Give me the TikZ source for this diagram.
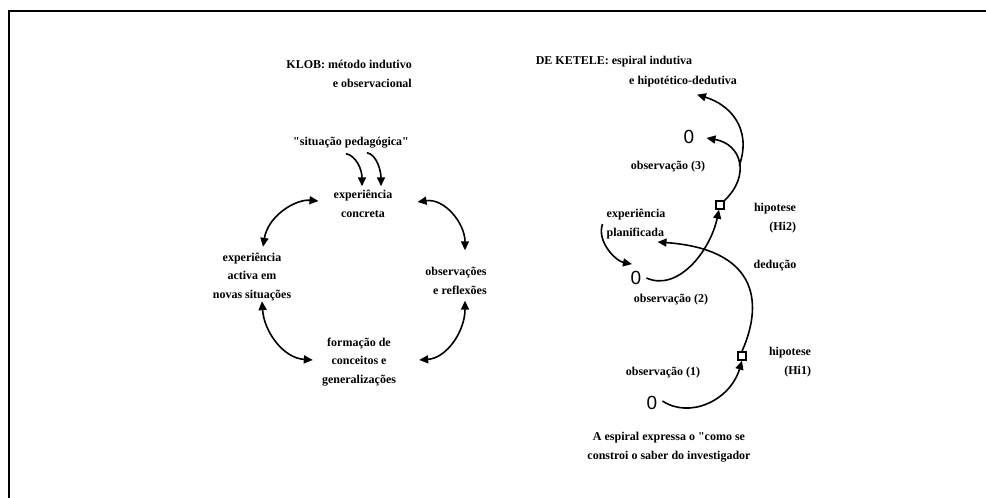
\documentclass[tikz,border=0pt]{standalone}
\usepackage{fontspec}
\setmainfont{Liberation Serif}[Ligatures=TeXOff]
\newfontfamily\digitfont{Liberation Sans}
\usetikzlibrary{arrows.meta}
\tikzset{
  lbl/.style={inner sep=1pt, align=center, font=\bfseries\fontsize{12}{18.5}\selectfont},
  zero/.style={inner sep=1pt, font=\digitfont\fontsize{19}{19}\selectfont},
  hyp/.style={rectangle, draw, line width=1.4pt, fill=white, minimum size=8pt, inner sep=0pt},
  arr/.style={line width=1.6pt, ->},
  darr/.style={line width=1.6pt, <->},
  >={Triangle[length=9pt,width=8pt]}
}
\begin{document}
\begin{tikzpicture}[x=1pt,y=-1pt]
\useasboundingbox (0,0) rectangle (986,498);
% frame
\draw[line width=2pt] (986,11) -- (9,11) -- (9,498);

% KLOB
\node[lbl, align=right, anchor=east] (klob) at (413,74) {KLOB: método indutivo\\e observacional};
\node[lbl] (sit) at (351,143) {"situação pedagógica"};
\node[lbl] (expc) at (363,204) {experiência\\concreta};
\node[lbl] (expa) at (252,277) {experiência\\activa em\\novas situações};
\node[lbl, align=right] (obsr) at (456,281) {observações\\e reflexões};
\node[lbl] (form) at (359,362) {formação de\\conceitos e\\generalizações};

\draw[arr] ([shift={(-5,4)}]sit.south) .. controls +(10,2) and +(0,-17) .. ([shift={(-1,-3)}]expc.north);
\draw[arr] ([shift={(16,3)}]sit.south) .. controls +(10,2) and +(0,-15) .. ([shift={(18,-3)}]expc.north);
% cycle
\draw[darr] ([shift={(-14,-3)}]expc.west) .. controls +(-23,-2) and +(5,-31) .. ([shift={(11,-5)}]expa.north);
\draw[darr] ([shift={(24,-2)}]expc.east) .. controls +(27,-4) and +(0,-27) .. ([shift={(9,-16)}]obsr.north);
\draw[darr] ([shift={(10,-1)}]expa.south) .. controls +(2,30) and +(-30,-2) .. ([shift={(-8,-2)}]form.west);
\draw[darr] ([shift={(9,5)}]obsr.south) .. controls +(0,30) and +(28,-2) .. ([shift={(22,-2)}]form.east);

% DE KETELE
\node[lbl] (ket1) at (614,62) {DE KETELE: espiral indutiva};
\node[lbl] (ket2) at (683,82) {e hipotético-dedutiva};
\node[zero] (z3) at (689,137) {0};
\node[lbl] (obs3) at (668,167) {observação (3)};
\node[hyp] (hi2) at (720,205) {};
\node[lbl, align=right] (hi2t) at (775,218) {hipotese\\(Hi2)};
\node[lbl, align=left] (expp) at (636,224) {experiência\\planificada};
\node[zero] (z2) at (636,278) {0};
\node[lbl] (ded) at (775,266) {dedução};
\node[lbl] (obs2) at (671,300) {observação (2)};
\node[hyp] (hi1) at (742,356) {};
\node[lbl, align=right] (hi1t) at (790,362) {hipotese\\(Hi1)};
\node[lbl] (obs1) at (663,373) {observação (1)};
\node[zero] (z1) at (652,403) {0};
\node[lbl] (spiral) at (669,447) {A espiral expressa o "como se\\constroi o saber do investigador};

% spiral
\draw[arr] (z1.east) ++(4,-2) .. controls +(27,18) and +(-12,40) .. (hi1.south);
\draw[arr] (hi1.north) .. controls +(23,-52) and +(97,7) .. ([shift={(-9,2)}]expp.south east);
\draw[arr] ([shift={(-3,0)}]expp.west) .. controls +(-6,18) and +(-16,-3) .. ([shift={(-4,-6)}]z2.north);
\draw[arr] ([shift={(4,0)}]z2.east) .. controls +(31,14) and +(-9,42) .. ([xshift=-1pt]hi2.south);
\draw[arr] (hi2.north east) .. controls +(26,-25) and +(35,6) .. coordinate[pos=0.45] (split) ([shift={(11,1)}]z3.east);
\draw[arr] (split) .. controls +(13,-37) and +(33,10) .. ([shift={(14,6)}]ket2.south);
\end{tikzpicture}
\end{document}
